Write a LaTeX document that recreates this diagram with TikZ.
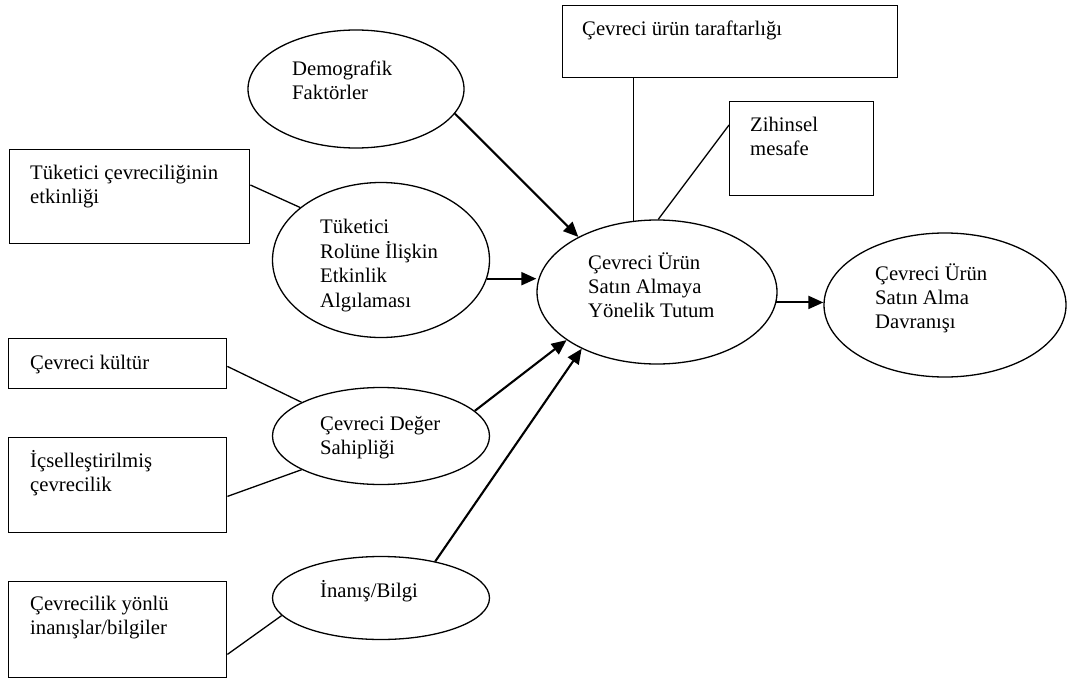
\documentclass[tikz,border=0pt]{standalone}
\usepackage{fontspec}
\setmainfont{Liberation Serif}
\usetikzlibrary{arrows.meta,calc,shapes.geometric}
\begin{document}
\begin{tikzpicture}[x=1pt,y=-1pt,
  box/.style={draw, line width=1.4pt, rectangle, anchor=north west, inner sep=0pt},
  oval/.style={draw, line width=1.3pt, ellipse, inner sep=0pt},
  txt/.style={anchor=north west, inner sep=0pt, align=left, font=\fontsize{20.7}{24.3}\selectfont},
  link/.style={line width=1.3pt},
  arr/.style={line width=2.1pt, -{Triangle[length=15pt,width=13pt]}}]
\useasboundingbox (0,0) rectangle (1068,680);

% boxes
\node[box, minimum width=335pt, minimum height=72pt] (taraf) at (562,5) {};
\node[txt] (tarafT) at (582,18) {\strut Çevreci ürün taraftarlığı};
\node[box, minimum width=144pt, minimum height=94pt] (zihin) at (729,101) {};
\node[txt] (zihinT) at (750,114) {\strut Zihinsel\\mesafe};
\node[box, minimum width=240pt, minimum height=94pt] (tukb) at (9,149) {};
\node[txt] (tukbT) at (30,162) {\strut Tüketici çevreciliğinin\\etkinliği};
\node[box, minimum width=218pt, minimum height=50pt] (kult) at (8,338) {};
\node[txt] (kultT) at (30,352) {\strut Çevreci kültür};
\node[box, minimum width=218pt, minimum height=95pt] (icsel) at (8,437) {};
\node[txt] (icselT) at (30,450) {\strut İçselleştirilmiş\\çevrecilik};
\node[box, minimum width=218pt, minimum height=96pt] (yonlu) at (8,581) {};
\node[txt] (yonluT) at (30,593) {\strut Çevrecilik yönlü\\inanışlar/bilgiler};

% ellipses
\node[oval, minimum width=216pt, minimum height=118pt] (demo) at (356,89) {};
\node[txt] (demoT) at (292,58) {\strut Demografik\\Faktörler};
\node[oval, minimum width=217pt, minimum height=155pt] (rol) at (381,260) {};
\node[txt] (rolT) at (320,216) {\strut Tüketici\\Rolüne İlişkin\\Etkinlik\\Algılaması};
\node[oval, minimum width=240pt, minimum height=144pt] (tutum) at (657,292) {};
\node[txt] (tutumT) at (588,252) {\strut Çevreci Ürün\\Satın Almaya\\Yönelik Tutum};
\node[oval, minimum width=242pt, minimum height=144pt] (davr) at (945,305) {};
\node[txt] (davrT) at (875,263) {\strut Çevreci Ürün\\Satın Alma\\Davranışı};
\node[oval, minimum width=217pt, minimum height=97pt] (deger) at (381,436) {};
\node[txt] (degerT) at (320,413) {\strut Çevreci Değer\\Sahipliği};
\node[oval, minimum width=217pt, minimum height=83pt] (inanis) at (381,598) {};
\node[txt] (inanisT) at (320,580) {\strut İnanış/Bilgi};

% plain links
\draw[link] (tutum.108) -- (tutum.108 |- taraf.south);
\draw[link] ([yshift=-24pt]zihin.north west) -- (tutum.89);
\draw[link] ([yshift=-36pt]tukb.north east) -- (rol.147);
\draw[link] ([yshift=23pt]kult.south east) -- (deger.157);
\draw[link] ([yshift=37pt]icsel.south east) -- (deger.203);
\draw[link] ([yshift=24pt]yonlu.south east) -- (inanis.190);

% arrows
\draw[arr] (demo.-14) -- (tutum.145);
\draw[arr] (rol.-10) -- (rol.-10 -| tutum.west);
\draw[arr] (deger.15) -- (tutum.208);
\draw[arr] (inanis.34) -- (tutum.217);
\draw[arr] (tutum.-5) -- (tutum.-5 -| davr.west);
\end{tikzpicture}
\end{document}
